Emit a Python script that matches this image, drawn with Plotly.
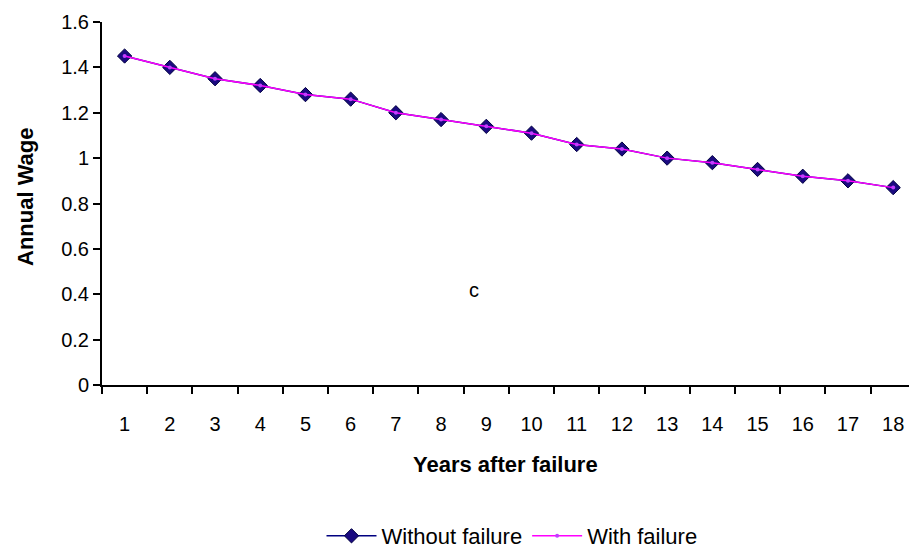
import plotly.graph_objects as go

# Years after failure (categories) and annual wage for both scenarios
years = [str(i) for i in range(1, 19)]
wage_without_failure = [1.45, 1.40, 1.35, 1.32, 1.28, 1.26, 1.20, 1.17, 1.14,
                        1.11, 1.06, 1.04, 1.00, 0.98, 0.95, 0.92, 0.90, 0.87]
wage_with_failure = [1.45, 1.40, 1.35, 1.32, 1.28, 1.26, 1.20, 1.17, 1.14,
                     1.11, 1.06, 1.04, 1.00, 0.98, 0.95, 0.92, 0.90, 0.87]

y_ticks = [0, 0.2, 0.4, 0.6, 0.8, 1, 1.2, 1.4, 1.6]
y_tick_text = ["0", "0.2", "0.4", "0.6", "0.8", "1", "1.2", "1.4", "1.6"]

FONT = "Liberation Sans, Arial, sans-serif"
FS = 20
W, H = 909, 550
L, R, T, B = 102, 0, 22, 165
plot_w = W - L - R
plot_h = H - T - B

fig = go.Figure()
fig.add_trace(go.Scatter(
    x=years, y=wage_without_failure, name="Without failure",
    mode="lines+markers",
    line=dict(color="#000080", width=1.5),
    marker=dict(symbol="diamond", size=11, color="#1a0a80",
                line=dict(color="#000040", width=1)),
))
fig.add_trace(go.Scatter(
    x=years, y=wage_with_failure, name="With failure",
    mode="lines+markers",
    line=dict(color="#ff00ff", width=1.5),
    marker=dict(symbol="circle", size=4, color="#c040ff"),
))

def px_to_paper_x(px):
    return (px - L) / plot_w

def px_to_paper_y(py):
    return (H - B - py) / plot_h

fig.update_layout(
    width=W, height=H,
    margin=dict(l=L, r=R, t=T, b=B, autoexpand=False),
    paper_bgcolor="white", plot_bgcolor="white",
    font=dict(family=FONT, size=FS, color="#000000"),
    showlegend=True,
    legend=dict(orientation="h", x=px_to_paper_x(512), xanchor="center",
                y=px_to_paper_y(536), yanchor="middle",
                font=dict(family=FONT, size=22), itemwidth=50,
                bgcolor="rgba(0,0,0,0)"),
    xaxis=dict(
        type="category", range=[-0.5, 17.35],
        showline=True, linecolor="#000000", linewidth=2,
        ticks="outside", tickson="boundaries", ticklen=7,
        tickcolor="#000000", tickwidth=2,
        ticklabelstandoff=20, automargin=False,
        showgrid=False, zeroline=False,
        tickfont=dict(family=FONT, size=FS),
    ),
    yaxis=dict(
        range=[0, 1.6], tickvals=y_ticks, ticktext=y_tick_text,
        showline=True, linecolor="#000000", linewidth=2,
        ticks="outside", ticklen=7, tickcolor="#000000", tickwidth=2,
        automargin=False,
        showgrid=False, zeroline=False,
        tickfont=dict(family=FONT, size=FS),
    ),
    annotations=[
        dict(text="<b>Annual Wage</b>", xref="paper", yref="paper",
             x=px_to_paper_x(25), y=px_to_paper_y(197),
             xanchor="center", yanchor="middle",
             textangle=-90, showarrow=False, font=dict(family=FONT, size=22)),
        dict(text="<b>Years after failure</b>", xref="paper", yref="paper",
             x=px_to_paper_x(505), y=px_to_paper_y(464),
             xanchor="center", yanchor="middle",
             showarrow=False, font=dict(family=FONT, size=22)),
        dict(text="c", xref="paper", yref="paper",
             x=px_to_paper_x(474), y=px_to_paper_y(290),
             xanchor="center", yanchor="middle",
             showarrow=False, font=dict(family=FONT, size=FS)),
    ],
)

fig.write_html("out.html")
